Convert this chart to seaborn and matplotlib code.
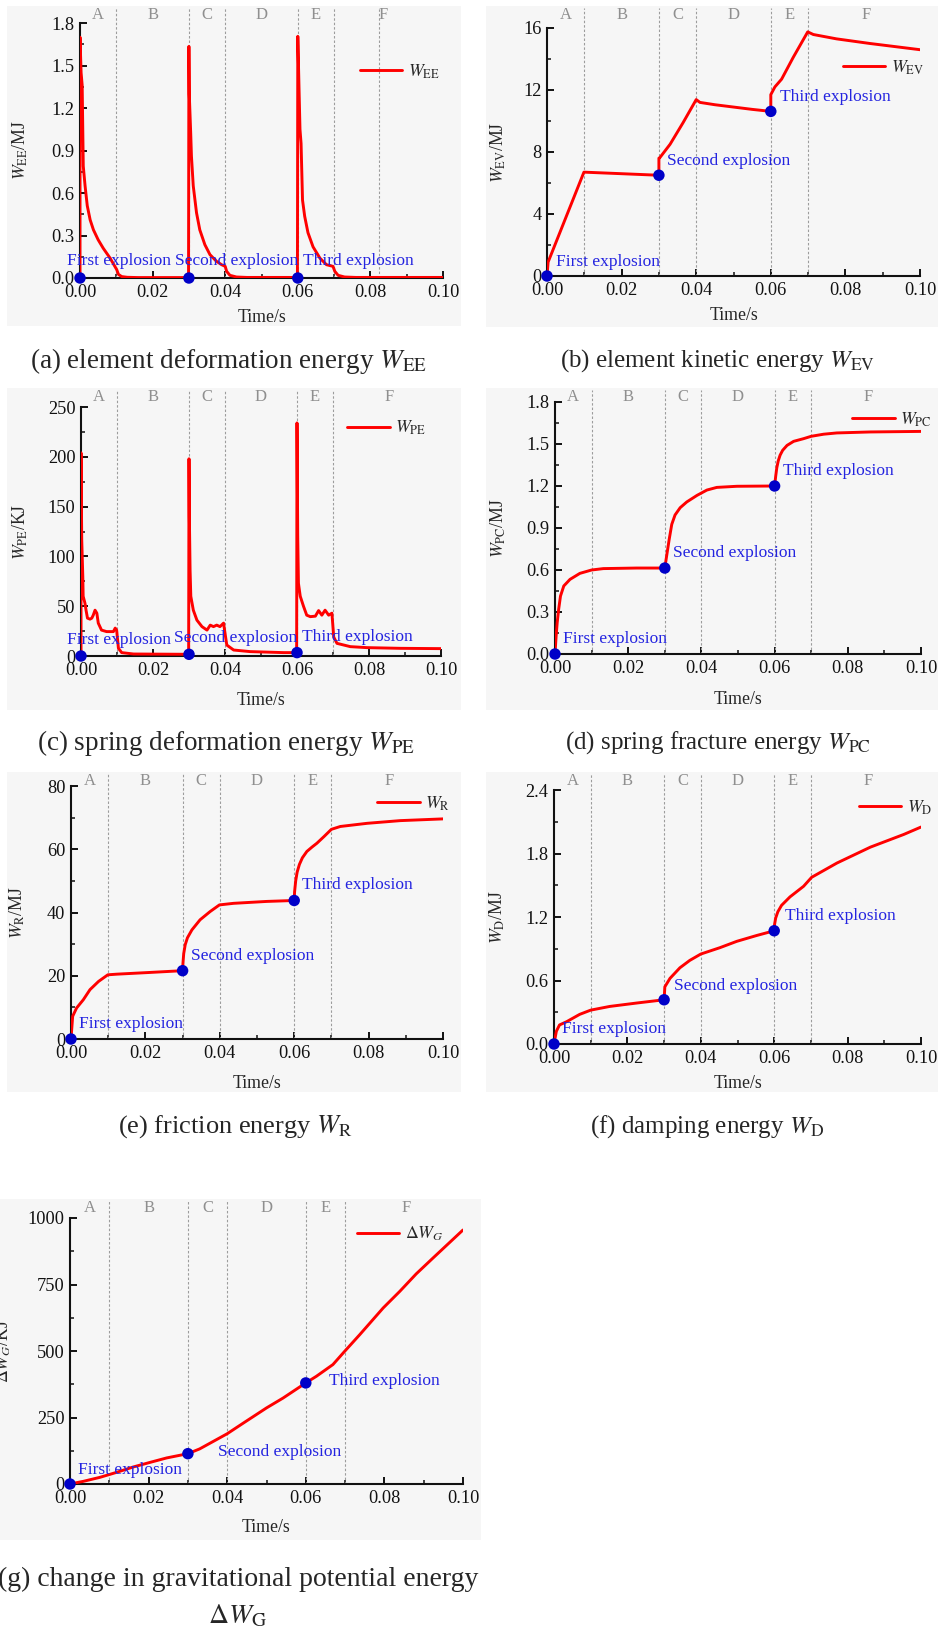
import matplotlib
matplotlib.use("Agg")
import matplotlib.pyplot as plt
from matplotlib.patches import Rectangle
from matplotlib.ticker import MultipleLocator, FormatStrFormatter
from matplotlib.transforms import blended_transform_factory
import pandas as pd
import seaborn as sns

# ---------------- data ----------------
# (a) element deformation energy, MJ
t_ee = [0.0, 0.0, 0.0003, 0.0006, 0.0009, 0.0014, 0.0020, 0.0028, 0.0037, 0.0050, 0.0064,
        0.0083, 0.0096, 0.0101, 0.0106, 0.0115, 0.0130, 0.0160, 0.0299,
        0.0300, 0.0301, 0.0305, 0.0307, 0.0312, 0.0321, 0.0330, 0.0344, 0.0358, 0.0376,
        0.0390, 0.0400, 0.0404, 0.0413, 0.0431, 0.0460, 0.0599,
        0.0600, 0.0602, 0.0606, 0.0609, 0.0613, 0.0619, 0.0628, 0.0642, 0.0661, 0.0679,
        0.0697, 0.0702, 0.0711, 0.0729, 0.0760, 0.1000]
w_ee = [0.0, 1.70, 1.45, 1.36, 0.79, 0.65, 0.51, 0.41, 0.34, 0.27, 0.21,
        0.14, 0.082, 0.06, 0.025, 0.01, 0.005, 0.003, 0.003,
        1.635, 1.30, 1.02, 0.86, 0.65, 0.46, 0.34, 0.235, 0.165, 0.118,
        0.094, 0.082, 0.047, 0.019, 0.007, 0.004, 0.004,
        1.706, 1.49, 1.05, 0.95, 0.55, 0.435, 0.32, 0.22, 0.14, 0.094,
        0.082, 0.047, 0.019, 0.007, 0.004, 0.004]

# (b) element kinetic energy, MJ
t_ev = [0.0, 0.0003, 0.0099, 0.0200, 0.0300, 0.0300, 0.0303, 0.0330, 0.0365, 0.0400,
        0.0410, 0.0450, 0.0500, 0.0550, 0.0600, 0.0600, 0.0611, 0.0629, 0.0660, 0.0699,
        0.0714, 0.0776, 0.0866, 0.1000]
w_ev = [0.0, 0.90, 6.70, 6.60, 6.50, 7.60, 7.65, 8.50, 9.90, 11.38,
        11.20, 11.05, 10.90, 10.75, 10.62, 11.70, 12.20, 12.70, 14.10, 15.75,
        15.58, 15.30, 15.00, 14.60]

# (c) spring deformation energy, KJ
t_pe = [0.0, 0.0, 0.0002, 0.0005, 0.0006, 0.0011, 0.0014, 0.0018, 0.0025, 0.0030,
        0.0034, 0.0039, 0.0044, 0.0048, 0.0057, 0.0071, 0.0090, 0.0095, 0.0099, 0.0104,
        0.0113, 0.0146, 0.0299,
        0.0300, 0.0301, 0.0303, 0.0305, 0.0312, 0.0322, 0.0336, 0.0350, 0.0359, 0.0368,
        0.0377, 0.0386, 0.0396, 0.0400, 0.0405, 0.0424, 0.0470, 0.0563, 0.0599,
        0.0600, 0.0602, 0.0604, 0.0609, 0.0618, 0.0627, 0.0637, 0.0651, 0.0660, 0.0669,
        0.0678, 0.0688, 0.0697, 0.0702, 0.0711, 0.0748, 0.0794, 0.0887, 0.1000]
w_pe = [0.0, 204, 117, 80, 60, 53, 46, 38, 37, 38,
        41, 46, 43, 33, 26, 24.5, 24.5, 28, 26, 7.7,
        3.4, 2.0, 1.7,
        198, 140, 86, 60, 46, 36, 29.5, 26, 31, 29.5,
        31, 29.5, 33, 23, 11, 6.0, 4.4, 3.4, 3.4,
        234, 120, 73, 60, 50, 41, 39.5, 40, 45.6, 41,
        46, 41, 43, 19, 12.7, 9.4, 8.4, 7.7, 7.4]

# (d) spring fracture energy, MJ
t_pc = [0.0, 0.0003, 0.0006, 0.0010, 0.0015, 0.0024, 0.0041, 0.0068, 0.0100, 0.0132,
        0.0223, 0.0300, 0.0305, 0.0312, 0.0319, 0.0328, 0.0342, 0.0360, 0.0388, 0.0415,
        0.0442, 0.0497, 0.0600, 0.0603, 0.0606, 0.0610, 0.0615, 0.0622, 0.0634, 0.0652,
        0.0679, 0.0700, 0.0734, 0.0770, 0.0861, 0.1000]
w_pc = [0.0, 0.126, 0.224, 0.319, 0.414, 0.486, 0.533, 0.576, 0.600, 0.610,
        0.614, 0.614, 0.700, 0.819, 0.926, 0.993, 1.045, 1.086, 1.133, 1.171,
        1.190, 1.198, 1.200, 1.270, 1.330, 1.380, 1.420, 1.455, 1.490, 1.519,
        1.538, 1.555, 1.570, 1.579, 1.586, 1.590]

# (e) friction energy, MJ
t_r = [0.0, 0.00045, 0.0015, 0.0033, 0.0051, 0.0074, 0.0099, 0.0123, 0.0213, 0.0300,
       0.0301, 0.0303, 0.0307, 0.0313, 0.0325, 0.0347, 0.0374, 0.0399, 0.0437, 0.0526, 0.0600,
       0.0601, 0.0604, 0.0608, 0.0614, 0.0622, 0.0634, 0.0648, 0.0661, 0.0680, 0.0700,
       0.0724, 0.0796, 0.0885, 0.1000]
w_r = [0.0, 7.2, 9.8, 12.4, 15.6, 18.2, 20.3, 20.5, 21.05, 21.6,
       24.0, 27.0, 29.8, 32.0, 34.5, 37.7, 40.3, 42.4, 42.9, 43.5, 43.8,
       46.5, 50.0, 52.8, 55.2, 57.3, 59.3, 60.7, 61.9, 64.0, 66.3,
       67.2, 68.2, 69.05, 69.6]

# (f) damping energy, MJ
t_d = [0.0, 0.00064, 0.0015, 0.0034, 0.0070, 0.0100, 0.0152, 0.0225, 0.0300,
       0.0302, 0.0316, 0.0343, 0.0370, 0.0400, 0.0452, 0.0498, 0.0552, 0.0600,
       0.0601, 0.0604, 0.0610, 0.0620, 0.0643, 0.0680, 0.0702, 0.0771, 0.0862, 0.0953, 0.1000]
w_d = [0.0, 0.12, 0.18, 0.21, 0.28, 0.32, 0.355, 0.387, 0.418,
       0.54, 0.62, 0.72, 0.79, 0.85, 0.91, 0.97, 1.025, 1.07,
       1.13, 1.19, 1.25, 1.31, 1.39, 1.49, 1.575, 1.71, 1.86, 1.98, 2.05]

# (g) change in gravitational potential energy, KJ
t_g = [0.0, 0.0034, 0.0076, 0.0119, 0.0161, 0.0203, 0.0246, 0.0300,
       0.0330, 0.0373, 0.0400, 0.0441, 0.0500, 0.0542, 0.0600,
       0.0627, 0.0669, 0.0699, 0.0737, 0.0797, 0.0839, 0.0881, 0.0924, 0.1000]
w_g = [0, 10, 25, 44, 64, 81, 98, 114,
       132, 167, 189, 229, 286, 323, 380,
       405, 449, 499, 561, 662, 724, 790, 850, 955]

# explosion instants and the energy at each one
blast_t = [0.00, 0.03, 0.06]
blast_ee = [0.0, 0.0, 0.0]
blast_ev = [0.0, 6.50, 10.62]
blast_pe = [0.0, 1.7, 3.4]
blast_pc = [0.0, 0.614, 1.200]
blast_r = [0.0, 21.6, 43.8]
blast_d = [0.0, 0.418, 1.07]
blast_g = [0, 114, 380]
blast_names = ["First explosion", "Second explosion", "Third explosion"]

# stage boundaries and stage letters
stage_bounds = [0.01, 0.03, 0.04, 0.06, 0.07]
stage_letters = ["A", "B", "C", "D", "E", "F"]
stage_mid = [0.005, 0.02, 0.035, 0.05, 0.065, 0.0855]
x_ticks = [0.00, 0.02, 0.04, 0.06, 0.08, 0.10]

# ---------------- style ----------------
sns.set_style("ticks")
plt.rcParams["font.family"] = ["Liberation Serif", "DejaVu Serif"]
plt.rcParams["mathtext.fontset"] = "stix"
plt.rcParams["axes.unicode_minus"] = False

RED = "#ff0000"
DOT = "#0000c8"
NOTE = "#2424e0"
STAGE = "#8f8f8f"
BOUND = "#9c9c9c"
PANEL_BG = "#f6f6f6"

FW, FH = 938, 1629
fig = plt.figure(figsize=(FW / 100, FH / 100), dpi=100)
fig.patch.set_facecolor("white")


def fig_rect(l, t, r, b):
    return [l / FW, 1 - b / FH, (r - l) / FW, (b - t) / FH]


panels = [
    dict(t=t_ee, v=w_ee, bt=blast_ee, ax=(80, 23, 443, 278), bg=(7, 6, 461, 326),
         ymax=1.8, ystep=0.3, fmt="%.1f", ylab=r"$W_{\mathrm{EE}}$/MJ", leg=r"$W_{\mathrm{EE}}$",
         legpos=(0.99, 0.81), xoff=39, yoff=60,
         notes=[(-0.0037, 0.12), (0.0261, 0.12), (0.0615, 0.12)],
         extra_bound=0.0824, f_mid=0.0835,
         cap="(a) element deformation energy $W_{\\mathrm{EE}}$", cap_xy=(228, 361), cap_fs=19.5),
    dict(t=t_ev, v=w_ev, bt=blast_ev, ax=(547, 28, 920, 276), bg=(486, 6, 938, 327),
         ymax=16, ystep=4, fmt="%d", ylab=r"$W_{\mathrm{EV}}$/MJ", leg=r"$W_{\mathrm{EV}}$",
         legpos=(1.01, 0.84), xoff=39, yoff=49,
         notes=[(0.0023, 0.93), (0.0322, 7.43), (0.0626, 11.55)],
         cap="(b) element kinetic energy $W_{\\mathrm{EV}}$", cap_xy=(718, 361), cap_fs=18),
    dict(t=t_pe, v=w_pe, bt=blast_pe, ax=(81, 407, 441, 656), bg=(7, 388, 461, 710),
         ymax=250, ystep=50, fmt="%d", ylab=r"$W_{\mathrm{PE}}$/KJ", leg=r"$W_{\mathrm{PE}}$",
         legpos=(0.96, 0.915), xoff=44, yoff=61,
         notes=[(-0.004, 16), (0.0259, 17.8), (0.0614, 19.4)],
         cap="(c) spring deformation energy $W_{\\mathrm{PE}}$", cap_xy=(226, 743), cap_fs=19.5),
    dict(t=t_pc, v=w_pc, bt=blast_pc, ax=(555, 402, 921, 654), bg=(486, 388, 938, 710),
         ymax=1.8, ystep=0.3, fmt="%.1f", ylab=r"$W_{\mathrm{PC}}$/MJ", leg=r"$W_{\mathrm{PC}}$",
         legpos=(1.03, 0.93), xoff=46, yoff=57,
         notes=[(0.0021, 0.107), (0.0322, 0.72), (0.0624, 1.31)],
         cap="(d) spring fracture energy $W_{\\mathrm{PC}}$", cap_xy=(718, 743), cap_fs=18),
    dict(t=t_r, v=w_r, bt=blast_r, ax=(71, 786, 443, 1039), bg=(7, 772, 461, 1092),
         ymax=80, ystep=20, fmt="%d", ylab=r"$W_{\mathrm{R}}$/MJ", leg=r"$W_{\mathrm{R}}$",
         legpos=(1.02, 0.93), xoff=44, yoff=54,
         notes=[(0.0022, 4.7), (0.0323, 26.1), (0.0621, 48.7)],
         cap="(e) friction energy $W_{\\mathrm{R}}$", cap_xy=(235, 1127), cap_fs=19),
    dict(t=t_d, v=w_d, bt=blast_d, ax=(554, 790, 921, 1044), bg=(486, 772, 938, 1092),
         ymax=2.4, ystep=0.6, fmt="%.1f", ylab=r"$W_{\mathrm{D}}$/MJ", leg=r"$W_{\mathrm{D}}$",
         legpos=(1.03, 0.93), xoff=39, yoff=57,
         notes=[(0.0023, 0.14), (0.0327, 0.55), (0.063, 1.21)],
         cap="(f) damping energy $W_{\\mathrm{D}}$", cap_xy=(707, 1127), cap_fs=18),
    dict(t=t_g, v=w_g, bt=blast_g, ax=(70, 1218, 463, 1484), bg=(0, 1199, 481, 1540),
         ymax=1000, ystep=250, fmt="%d", ylab=r"$\Delta W_G$/KJ", leg=r"$\Delta W_G$",
         legpos=(0.95, 0.94), xoff=43, yoff=67,
         notes=[(0.0021, 54), (0.0377, 119), (0.0658, 386)],
         cap="(g) change in gravitational potential energy", cap_xy=(238, 1579), cap_fs=20),
]

for p in panels:
    bl, btop, br, bb = p["bg"]
    fig.patches.append(Rectangle((bl / FW, 1 - bb / FH), (br - bl) / FW, (bb - btop) / FH,
                                 transform=fig.transFigure, facecolor=PANEL_BG,
                                 edgecolor="none", zorder=-5))
    l, t, r, b = p["ax"]
    ax = fig.add_axes(fig_rect(l, t, r, b))
    ax.set_zorder(1)
    ax.patch.set_alpha(0)
    hpx, wpx = b - t, r - l

    # stage boundaries reaching up to the top of the panel
    top_frac = (b - btop - 2) / hpx
    bounds = list(stage_bounds) + ([p["extra_bound"]] if "extra_bound" in p else [])
    for x in bounds:
        ax.axvline(x, 0, top_frac, color=BOUND, lw=0.8, ls=(0, (2.2, 1.8)),
                   clip_on=False, zorder=1)
    trans = blended_transform_factory(ax.transData, ax.transAxes)
    letter_frac = (b - (btop + 9)) / hpx
    mids = list(stage_mid)
    if "f_mid" in p:
        mids[-1] = p["f_mid"]
    for x, s in zip(mids, stage_letters):
        ax.text(x, letter_frac, s, transform=trans, ha="center", va="center",
                color=STAGE, fontsize=12)

    curve = pd.DataFrame({"t": p["t"], "v": p["v"]})
    sns.lineplot(data=curve, x="t", y="v", ax=ax, color=RED, linewidth=2.1,
                 sort=False, estimator=None, label=p["leg"], zorder=3)
    pts = pd.DataFrame({"t": blast_t, "v": p["bt"]})
    sns.scatterplot(data=pts, x="t", y="v", ax=ax, color=DOT, s=68, edgecolor="none",
                    zorder=4, clip_on=False, legend=False)

    for (nx, ny), s in zip(p["notes"], blast_names):
        ax.text(nx, ny, s, color=NOTE, fontsize=12.5, ha="left", va="center", zorder=5)

    ax.set_xlim(0, 0.1)
    ax.set_ylim(0, p["ymax"])
    ax.set_xticks(x_ticks)
    ax.xaxis.set_major_formatter(FormatStrFormatter("%.2f"))
    ax.xaxis.set_minor_locator(MultipleLocator(0.01))
    ax.yaxis.set_major_locator(MultipleLocator(p["ystep"]))
    ax.yaxis.set_minor_locator(MultipleLocator(p["ystep"] / 2))
    ax.yaxis.set_major_formatter(FormatStrFormatter(p["fmt"]))
    for side in ("top", "right"):
        ax.spines[side].set_visible(False)
    for side in ("left", "bottom"):
        ax.spines[side].set_linewidth(1.5)
        ax.spines[side].set_color("#111111")
    ax.tick_params(which="major", direction="in", length=5, width=1.4,
                   labelsize=13.2, pad=4, color="#111111", labelcolor="#111111")
    ax.tick_params(which="minor", direction="in", length=3, width=1.1, color="#111111")

    ax.set_xlabel("Time/s", fontsize=12.8)
    ax.xaxis.set_label_coords(0.5, -p["xoff"] / hpx)
    ax.xaxis.label.set_va("center")
    ax.set_ylabel(p["ylab"], fontsize=12.8)
    ax.yaxis.set_label_coords(-p["yoff"] / wpx, 0.5)
    ax.yaxis.label.set_va("center")

    ax.legend(loc="center right", bbox_to_anchor=p["legpos"], frameon=False,
              fontsize=12.8, handlelength=2.4, handletextpad=0.3,
              borderpad=0, borderaxespad=0)

    cx, cy = p["cap_xy"]
    fig.text(cx / FW, 1 - cy / FH, p["cap"], ha="center", va="center", fontsize=p["cap_fs"])

fig.text(238 / FW, 1 - 1616 / FH, r"$\Delta W_{\mathrm{G}}$", ha="center", va="center", fontsize=20)

fig.savefig("out.png", dpi=100, facecolor="white")
